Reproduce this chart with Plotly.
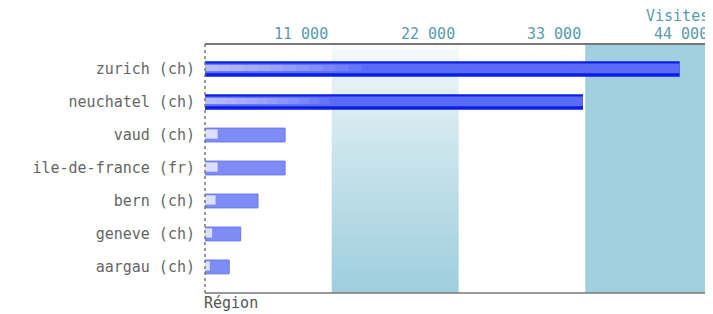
import plotly.graph_objects as go

regions = ["zurich (ch)", "neuchatel (ch)", "vaud (ch)", "ile-de-france (fr)",
           "bern (ch)", "geneve (ch)", "aargau (ch)"]
visites = [41200, 32800, 6950, 6950, 4600, 3100, 2100]
tick_vals = [11000, 22000, 33000, 44000]
tick_text = ["11 000", "22 000", "33 000", "44 000"]
x_max = 44000

ypos = list(range(len(regions)))
top_n = 2
FONT = "DejaVu Sans Mono"

fig = go.Figure()

# gradient band 11000-22000 simulated with overlapping strips
n_strips = 40
y0, y1 = -0.76, 6.79
c_top = (248, 252, 253)
c_bot = (160, 207, 221)
step = (y1 - y0) / n_strips
for i in range(n_strips):
    t = (i / (n_strips - 1)) ** 0.8
    c = tuple(int(c_top[k] + (c_bot[k] - c_top[k]) * t) for k in range(3))
    fig.add_shape(type="rect", xref="x", yref="y", x0=tick_vals[0], x1=tick_vals[1],
                  y0=y0 + step * i - 0.02, y1=y0 + step * (i + 1) + 0.02,
                  fillcolor="rgb(%d,%d,%d)" % c, line_width=0, layer="below")
n_v = 20
band_w = (tick_vals[1] - tick_vals[0]) / n_v
for j in range(n_v):
    a = max(0.0, (j / (n_v - 1) - 0.15)) / 0.85 * 0.35
    fig.add_shape(type="rect", xref="x", yref="paper",
                  x0=tick_vals[0] + band_w * j, x1=tick_vals[0] + band_w * (j + 1),
                  y0=0, y1=1, fillcolor="rgba(160,207,221,%.3f)" % a, line_width=0, layer="below")
fig.add_shape(type="rect", xref="x", yref="paper", x0=tick_vals[2], x1=tick_vals[3],
              y0=0, y1=1, fillcolor="#a0cfdd", line_width=0, layer="below")

dark_x = visites[:top_n]
dark_y = ypos[:top_n]
light_x = visites[top_n:]
light_y = ypos[top_n:]

# dark bars
fig.add_trace(go.Bar(x=dark_x, y=dark_y, orientation="h", width=0.47,
                     marker=dict(color="#0a1ee6", line=dict(width=0))))
fig.add_trace(go.Bar(x=dark_x, y=[p - 0.02 for p in dark_y], orientation="h", width=0.3,
                     marker=dict(color="#5a6cf5", line=dict(width=0))))
for k in range(12):
    frac = 0.33 * (1 - k / 12)
    fig.add_trace(go.Bar(x=[v * frac for v in dark_x], y=[p - 0.03 for p in dark_y],
                         orientation="h", width=0.2,
                         marker=dict(color="rgba(240,242,255,0.08)", line=dict(width=0))))
# light bars
fig.add_trace(go.Bar(x=light_x, y=light_y, orientation="h", width=0.42,
                     marker=dict(color="#7e8cf5", line=dict(color="#6a78ee", width=1))))
fig.add_trace(go.Bar(x=[min(v * 0.2, 1100) for v in light_x], y=[p - 0.03 for p in light_y],
                     orientation="h", width=0.28,
                     marker=dict(color="rgba(235,238,255,0.85)", line=dict(width=0))))

fig.update_layout(
    width=705, height=306,
    margin=dict(l=197, r=1, t=36, b=21),
    barmode="overlay",
    showlegend=False,
    plot_bgcolor="white",
    paper_bgcolor="white",
    font=dict(family=FONT, size=15, color="#666"),
)
fig.update_xaxes(range=[0, x_max], showticklabels=False, showgrid=False, zeroline=False,
                 showline=False, fixedrange=True)
fig.update_yaxes(range=[y1, y0], tickvals=ypos, ticktext=regions, showgrid=False,
                 zeroline=False, showline=False, ticks="", ticklen=0, automargin=False,
                 ticklabelstandoff=9,
                 tickfont=dict(family=FONT, size=15, color="#666"))

# frame lines
fig.add_shape(type="line", xref="paper", yref="paper", x0=0, x1=1, y0=1, y1=1,
              line=dict(color="#777", width=2))
fig.add_shape(type="line", xref="paper", yref="paper", x0=0, x1=1, y0=0, y1=0,
              line=dict(color="#777", width=1.5))
fig.add_shape(type="line", xref="paper", yref="paper", x0=0, x1=0, y0=0, y1=1,
              line=dict(color="#777", width=1.5, dash="dot"))
fig.add_shape(type="line", xref="paper", yref="paper", x0=1, x1=1, y0=0, y1=1,
              line=dict(color="#999", width=1, dash="dot"))

for v, t in zip(tick_vals, tick_text):
    fig.add_annotation(x=v, y=1, xref="x", yref="paper", text=t, showarrow=False,
                       xanchor="right", yanchor="bottom", yshift=-1, xshift=-2,
                       font=dict(family=FONT, size=15, color="#5a9aae"))
fig.add_annotation(x=1, y=1, xref="paper", yref="paper", text="Visites", showarrow=False,
                   xanchor="right", yanchor="bottom", yshift=17, xshift=-1,
                   font=dict(family=FONT, size=15, color="#5a9aae"))
fig.add_annotation(x=0, y=0, xref="paper", yref="paper", text="Région", showarrow=False,
                   xanchor="left", yanchor="top", yshift=1, xshift=-3,
                   font=dict(family=FONT, size=15, color="#555"))

fig.write_html("out.html")
